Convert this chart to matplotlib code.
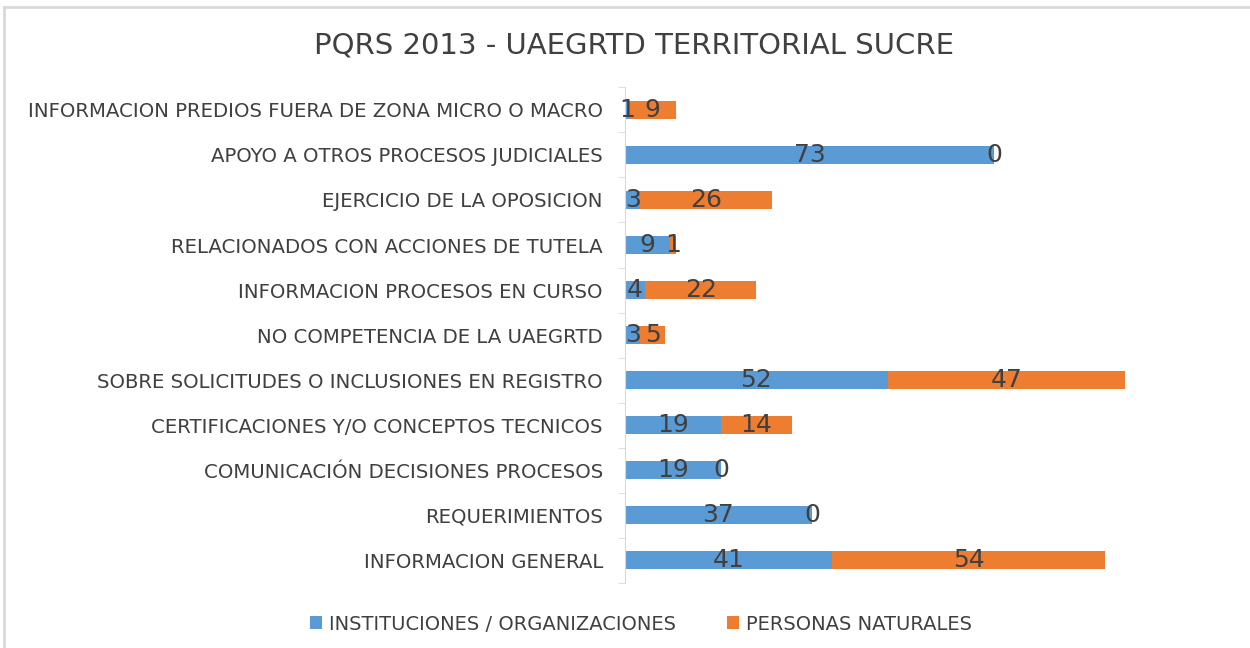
import matplotlib.pyplot as plt
import numpy as np

categories = [
    "INFORMACION GENERAL",
    "REQUERIMIENTOS",
    "COMUNICACIÓN DECISIONES PROCESOS",
    "CERTIFICACIONES Y/O CONCEPTOS TECNICOS",
    "SOBRE SOLICITUDES O INCLUSIONES EN REGISTRO",
    "NO COMPETENCIA DE LA UAEGRTD",
    "INFORMACION PROCESOS EN CURSO",
    "RELACIONADOS CON ACCIONES DE TUTELA",
    "EJERCICIO DE LA OPOSICION",
    "APOYO A OTROS PROCESOS JUDICIALES",
    "INFORMACION PREDIOS FUERA DE ZONA MICRO O MACRO",
]
instituciones = [41, 37, 19, 19, 52, 3, 4, 9, 3, 73, 1]
personas = [54, 0, 0, 14, 47, 5, 22, 1, 26, 0, 9]
series_names = ["INSTITUCIONES / ORGANIZACIONES", "PERSONAS NATURALES"]

blue = "#5B9BD5"
orange = "#ED7D31"
txt = "#404040"

fig = plt.figure(figsize=(12.5, 6.48), dpi=100)
ax = fig.add_axes([0.5, 0.101, 0.479, 0.764])

y = np.arange(len(categories))
inst = np.array(instituciones)
pers = np.array(personas)
b1 = ax.barh(y, inst, height=0.4, color=blue, label=series_names[0])
b2 = ax.barh(y, pers, left=inst, height=0.4, color=orange, label=series_names[1])

for i in range(len(categories)):
    ax.text(inst[i] / 2, y[i], str(inst[i]), ha="center", va="center",
            fontsize=18, color=txt)
    ax.text(inst[i] + pers[i] / 2, y[i], str(pers[i]), ha="center", va="center",
            fontsize=18, color=txt)

ax.set_xlim(0, 118.5)
ax.set_ylim(-0.5, len(categories) - 0.5)
ax.set_xticks([])
ax.set_yticks(y)
ax.set_yticklabels(categories, fontsize=14.2, color=txt)
ax.set_yticks(np.arange(-0.5, len(categories), 1), minor=True)
ax.tick_params(axis="y", which="major", length=0, pad=16)
ax.tick_params(axis="y", which="minor", length=5, color="#D9D9D9")
for s in ["top", "right", "bottom"]:
    ax.spines[s].set_visible(False)
ax.spines["left"].set_color("#D9D9D9")

fig.text(0.507, 0.93, "PQRS 2013 - UAEGRTD TERRITORIAL SUCRE", ha="center",
         va="center", fontsize=21, color=txt)

fig.legend(handles=[b1, b2], loc="center", bbox_to_anchor=(0.513, 0.037),
           ncol=2, frameon=False, fontsize=14, labelcolor=txt,
           handlelength=0.6, handleheight=0.6, handletextpad=0.4,
           columnspacing=2.6)

# light frame around chart area
fig.add_artist(plt.Line2D([0.0035, 1], [0.989, 0.989], color="#D9D9D9", lw=2))
fig.add_artist(plt.Line2D([0.0035, 0.0035], [0, 0.989], color="#D9D9D9", lw=2))

fig.savefig("out.png", dpi=100, facecolor="white")
